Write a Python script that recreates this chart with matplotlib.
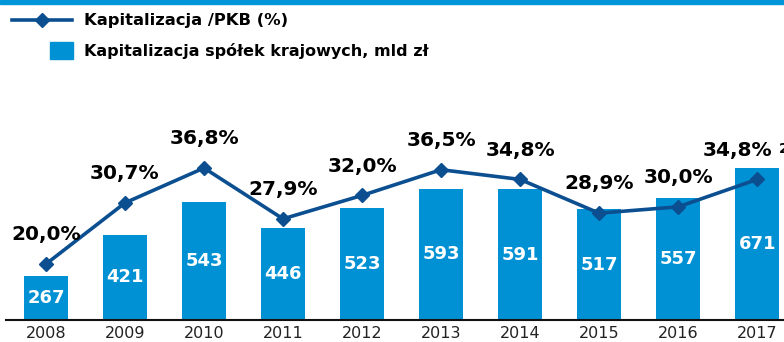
import matplotlib.pyplot as plt
from matplotlib.lines import Line2D
from matplotlib.patches import Rectangle
import numpy as np

years = ["2008", "2009", "2010", "2011", "2012", "2013", "2014", "2015", "2016", "2017"]
cap_mld = [267, 421, 543, 446, 523, 593, 591, 517, 557, 671]
cap_pkb = [20.0, 30.7, 36.8, 27.9, 32.0, 36.5, 34.8, 28.9, 30.0, 34.8]
pkb_labels = ["20,0%", "30,7%", "36,8%", "27,9%", "32,0%", "36,5%", "34,8%", "28,9%", "30,0%", "34,8%"]

bar_blue = "#0091d5"
line_blue = "#0b4f91"

W, H = 784, 342
fig = plt.figure(figsize=(W / 100, H / 100), dpi=100)
ax = fig.add_axes([6 / W, 22 / H, 778 / W, 280 / H])
ax2 = ax.twinx()

x = np.arange(len(years))
ymin = 102
ax.bar(x, np.array(cap_mld) - ymin, bottom=ymin, width=0.557, color=bar_blue, zorder=1)
ax.set_ylim(ymin, 1150)
ax.set_xlim(-0.506, 9.34)

for xi, v in zip(x, cap_mld):
    ax.text(xi, (ymin + v) / 2, str(v), ha="center", va="center", color="white",
            fontsize=13, fontweight="bold")

ax2.plot(x, cap_pkb, color=line_blue, lw=2.6, marker="D", markersize=7, zorder=3)
ax2.set_ylim(10.2, 59.2)
for i, (xi, p, lab) in enumerate(zip(x, cap_pkb, pkb_labels)):
    dx = -0.25 if i == len(x) - 1 else 0
    ax2.annotate(lab, (xi + dx, p), xytext=(0, 21), textcoords="offset points",
                 ha="center", va="center", fontsize=14.5, fontweight="bold", color="black")
ax2.annotate("2", (x[-1] + 0.27, cap_pkb[-1]), xytext=(0, 22), textcoords="offset points",
             ha="left", va="center", fontsize=10, fontweight="bold", color="black")

ax.set_xticks(x)
ax.set_xticklabels(years, fontsize=11.5, color="#222222")
ax.tick_params(axis="x", length=0, pad=4)
ax.set_yticks([])
ax2.set_yticks([])
for a in (ax, ax2):
    for s in ("top", "right", "left", "bottom"):
        a.spines[s].set_visible(False)
ax.spines["bottom"].set_visible(True)
ax.spines["bottom"].set_linewidth(1.5)
ax.spines["bottom"].set_color("#111111")

# top stripe
fig.patches.append(Rectangle((0, 1 - 4 / H), 1, 4 / H, transform=fig.transFigure,
                             color="#0095d8", zorder=0))

# legend drawn by hand
ly = 1 - 20 / H
fig.add_artist(Line2D([12 / W, 72 / W], [ly, ly], transform=fig.transFigure,
                      color=line_blue, lw=2.6))
fig.add_artist(Line2D([42 / W], [ly], transform=fig.transFigure,
                      color=line_blue, marker="D", markersize=7, lw=0))
fig.patches.append(Rectangle((50 / W, 1 - 59 / H), 23 / W, 17 / H, transform=fig.transFigure,
                             color=bar_blue))
fig.text(84 / W, ly, "Kapitalizacja /PKB (%)", ha="left", va="center",
         fontsize=11.8, fontweight="bold", color="black")
fig.text(84 / W, 1 - 51 / H, "Kapitalizacja spółek krajowych, mld zł", ha="left", va="center",
         fontsize=11.5, fontweight="bold", color="black")

fig.savefig("out.png", dpi=100)
